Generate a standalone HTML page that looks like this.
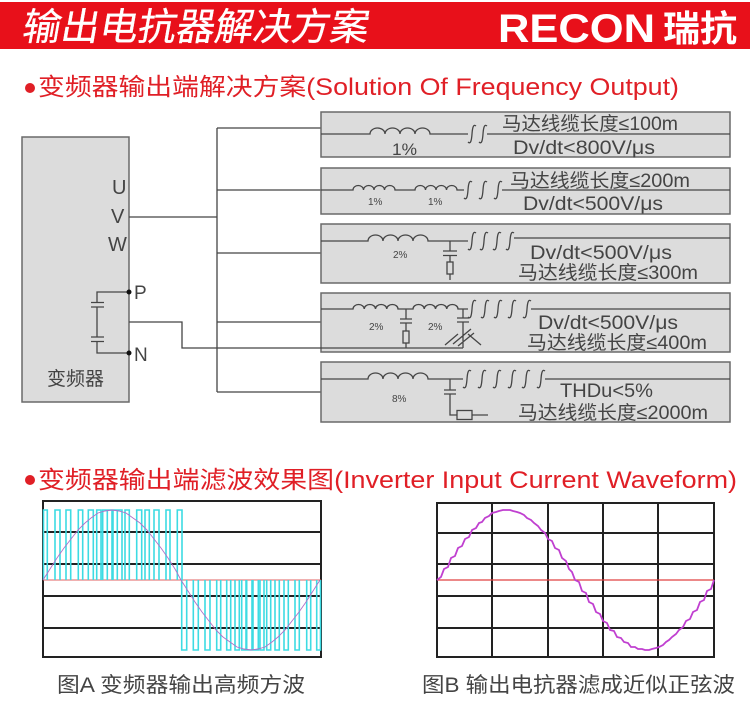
<!DOCTYPE html>
<html><head><meta charset="utf-8"><style>
html,body{margin:0;padding:0;background:#fff;}
svg{display:block;}
.cj{font-family:"Liberation Sans","Noto Sans CJK SC",sans-serif;}
.ln{stroke:#454545;stroke-width:1.3;fill:none;}
.bx{fill:#dcdcdc;stroke:#6a6a6a;stroke-width:1.5;}
.t{fill:#444;font-family:"Liberation Sans","Noto Sans CJK SC",sans-serif;}
</style></head><body>
<svg width="750" height="714" viewBox="0 0 750 714" xmlns="http://www.w3.org/2000/svg">
<rect width="750" height="714" fill="#fff"/>
<!-- header -->
<rect x="0" y="2" width="750" height="47" fill="#e8101a"/>
<text x="28" y="40" font-size="38" fill="#fff" stroke="#fff" stroke-width="0.3" transform="skewX(-10)" class="cj" textLength="346" lengthAdjust="spacingAndGlyphs">输出电抗器解决方案</text>
<text x="498" y="42" font-size="40" fill="#fff" font-weight="bold" font-family="Liberation Sans, sans-serif" textLength="157" lengthAdjust="spacingAndGlyphs">RECON</text>
<text x="663" y="41" font-size="36" fill="#fff" font-weight="bold" class="cj" textLength="74" lengthAdjust="spacingAndGlyphs">瑞抗</text>

<!-- heading 1 -->
<circle cx="30" cy="88" r="5" fill="#e01f26"/>
<text x="38" y="95" font-size="24" fill="#e01f26" class="cj" textLength="641" lengthAdjust="spacingAndGlyphs">变频器输出端解决方案(Solution Of Frequency Output)</text>

<!-- inverter -->
<rect x="22" y="137" width="107" height="265" class="bx"/>
<text x="112" y="194" font-size="20" class="t" fill="#555">U</text>
<text x="111" y="223" font-size="20" class="t" fill="#555">V</text>
<text x="108" y="251" font-size="20" class="t" fill="#555">W</text>
<text x="134" y="299" font-size="19" class="t">P</text>
<text x="134" y="361" font-size="19" class="t">N</text>
<text x="47" y="385" font-size="19" class="t" textLength="57" lengthAdjust="spacingAndGlyphs">变频器</text>
<path class="ln" d="M129,292 H97 V302.5 M91,302.5 H104 M91,307 H104 M97,307 V337 M91,337 H104 M91,341.5 H104 M97,341.5 V353 H129"/>
<circle cx="129" cy="292" r="2.5" fill="#111"/>
<circle cx="129" cy="353" r="2.5" fill="#111"/>

<!-- bus -->
<path class="ln" d="M129,217 H217 M217,128 V392 M217,128 H321 M217,190 H321 M217,253 H321 M217,322 H321 M217,392 H321"/>

<!-- boxes -->
<rect x="321" y="112" width="409" height="45" class="bx"/>
<rect x="321" y="168" width="409" height="46" class="bx"/>
<rect x="321" y="224" width="409" height="59" class="bx"/>
<rect x="321" y="293" width="409" height="59" class="bx"/>
<rect x="321" y="362" width="409" height="60" class="bx"/>

<!-- N line -->
<path class="ln" d="M129,322 H182 V348 H463"/>

<!-- box1 -->
<path class="ln" d="M321,134 H370 a7.5,6 0 0 1 15,0 a7.5,6 0 0 1 15,0 a7.5,6 0 0 1 15,0 a7.5,6 0 0 1 15,0 H468
M468,142 c2.5,2.5 3.5,-1 4,-8 c0.5,-7 1.5,-10 4,-8
M479,142 c2.5,2.5 3.5,-1 4,-8 c0.5,-7 1.5,-10 4,-8
M487,134 H730"/>
<text x="392" y="155" font-size="17" class="t" textLength="25" lengthAdjust="spacingAndGlyphs">1%</text>
<text x="502" y="130" font-size="19" class="t" textLength="176" lengthAdjust="spacingAndGlyphs">马达线缆长度≤100m</text>
<text x="513" y="154" font-size="19" class="t" textLength="142" lengthAdjust="spacingAndGlyphs">Dv/dt&lt;800V/μs</text>

<!-- box2 -->
<path class="ln" d="M321,190 H353 a5.25,4.5 0 0 1 10.5,0 a5.25,4.5 0 0 1 10.5,0 a5.25,4.5 0 0 1 10.5,0 a5.25,4.5 0 0 1 10.5,0 H415 a5.25,4.5 0 0 1 10.5,0 a5.25,4.5 0 0 1 10.5,0 a5.25,4.5 0 0 1 10.5,0 a5.25,4.5 0 0 1 10.5,0 H464
M464,198 c2.5,2.5 3.5,-1 4,-8 c0.5,-7 1.5,-10 4,-8
M479,198 c2.5,2.5 3.5,-1 4,-8 c0.5,-7 1.5,-10 4,-8
M494,198 c2.5,2.5 3.5,-1 4,-8 c0.5,-7 1.5,-10 4,-8
M502,190 H730"/>
<text x="368" y="205" font-size="10" class="t" fill="#555">1%</text>
<text x="428" y="205" font-size="10" class="t" fill="#555">1%</text>
<text x="510" y="187" font-size="19" class="t" textLength="180" lengthAdjust="spacingAndGlyphs">马达线缆长度≤200m</text>
<text x="523" y="210" font-size="19" class="t" textLength="140" lengthAdjust="spacingAndGlyphs">Dv/dt&lt;500V/μs</text>

<!-- box3 -->
<path class="ln" d="M321,241 H368 a7.5,6 0 0 1 15,0 a7.5,6 0 0 1 15,0 a7.5,6 0 0 1 15,0 a7.5,6 0 0 1 15,0 H468
M468,249 c2.5,2.5 3.5,-1 4,-8 c0.5,-7 1.5,-10 4,-8
M480,249 c2.5,2.5 3.5,-1 4,-8 c0.5,-7 1.5,-10 4,-8
M493,249 c2.5,2.5 3.5,-1 4,-8 c0.5,-7 1.5,-10 4,-8
M506,249 c2.5,2.5 3.5,-1 4,-8 c0.5,-7 1.5,-10 4,-8
M514,238 H730
M450,241 V251 M443,251 H457 M443,255.5 H457 M450,255.5 V262 M450,274 V280"/>
<rect x="447" y="262" width="6" height="12" fill="none" stroke="#454545" stroke-width="1.3"/>
<text x="393" y="258" font-size="10" class="t" fill="#555">2%</text>
<text x="530" y="259" font-size="19" class="t" textLength="142" lengthAdjust="spacingAndGlyphs">Dv/dt&lt;500V/μs</text>
<text x="518" y="279" font-size="19" class="t" textLength="180" lengthAdjust="spacingAndGlyphs">马达线缆长度≤300m</text>

<!-- box4 -->
<path class="ln" d="M321,309 H353 a5.625,4.5 0 0 1 11.25,0 a5.625,4.5 0 0 1 11.25,0 a5.625,4.5 0 0 1 11.25,0 a5.625,4.5 0 0 1 11.25,0 H413 a5.625,4.5 0 0 1 11.25,0 a5.625,4.5 0 0 1 11.25,0 a5.625,4.5 0 0 1 11.25,0 a5.625,4.5 0 0 1 11.25,0 H468
M468,317 c2.5,2.5 3.5,-1 4,-8 c0.5,-7 1.5,-10 4,-8
M481,317 c2.5,2.5 3.5,-1 4,-8 c0.5,-7 1.5,-10 4,-8
M494,317 c2.5,2.5 3.5,-1 4,-8 c0.5,-7 1.5,-10 4,-8
M508,317 c2.5,2.5 3.5,-1 4,-8 c0.5,-7 1.5,-10 4,-8
M523,317 c2.5,2.5 3.5,-1 4,-8 c0.5,-7 1.5,-10 4,-8
M531,309 H730
M406,309 V319 M400,319 H412 M400,323 H412 M406,323 V331 M406,343 V348
M463,309 V318 M457,318 H469 M457,322 H469 M463,322 V348
M445,345 L458,334 M468,334 L481,345 M453,344 L471,329 M458,346 L474,333"/>
<rect x="403" y="331" width="6" height="12" fill="none" stroke="#454545" stroke-width="1.3"/>
<text x="369" y="330" font-size="10" class="t" fill="#555">2%</text>
<text x="428" y="330" font-size="10" class="t" fill="#555">2%</text>
<text x="538" y="329" font-size="19" class="t" textLength="140" lengthAdjust="spacingAndGlyphs">Dv/dt&lt;500V/μs</text>
<text x="527" y="349" font-size="19" class="t" textLength="180" lengthAdjust="spacingAndGlyphs">马达线缆长度≤400m</text>

<!-- box5 -->
<path class="ln" d="M321,379 H368 a7.5,6 0 0 1 15,0 a7.5,6 0 0 1 15,0 a7.5,6 0 0 1 15,0 a7.5,6 0 0 1 15,0 H463
M463,387 c2.5,2.5 3.5,-1 4,-8 c0.5,-7 1.5,-10 4,-8
M478,387 c2.5,2.5 3.5,-1 4,-8 c0.5,-7 1.5,-10 4,-8
M493,387 c2.5,2.5 3.5,-1 4,-8 c0.5,-7 1.5,-10 4,-8
M508,387 c2.5,2.5 3.5,-1 4,-8 c0.5,-7 1.5,-10 4,-8
M522,387 c2.5,2.5 3.5,-1 4,-8 c0.5,-7 1.5,-10 4,-8
M537,387 c2.5,2.5 3.5,-1 4,-8 c0.5,-7 1.5,-10 4,-8
M545,379 H730
M450,379 V390 M444,390 H456 M444,394 H456 M450,394 V415 H457 M472,415 H488"/>
<rect x="457" y="410.5" width="15" height="9" fill="none" stroke="#454545" stroke-width="1.3"/>
<text x="392" y="402" font-size="10" class="t" fill="#555">8%</text>
<text x="560" y="397" font-size="19" class="t" textLength="93" lengthAdjust="spacingAndGlyphs">THDu&lt;5%</text>
<text x="518" y="419" font-size="19" class="t" textLength="190" lengthAdjust="spacingAndGlyphs">马达线缆长度≤2000m</text>

<!-- heading 2 -->
<circle cx="30" cy="480" r="5" fill="#e01f26"/>
<text x="38" y="488" font-size="24" fill="#e01f26" class="cj" textLength="699" lengthAdjust="spacingAndGlyphs">变频器输出端滤波效果图(Inverter Input Current Waveform)</text>

<!-- chart A -->
<rect x="43" y="501" width="278" height="156" fill="#fff" stroke="#222" stroke-width="2"/>
<path d="M43,532 H321 M43,564 H321 M43,596 H321 M43,628 H321" stroke="#222" stroke-width="2" fill="none"/>
<path d="M43,580 H321" stroke="#e06060" stroke-width="1" fill="none"/>
<g fill="none" stroke="#3ddbe3" stroke-width="1.6">
<path d="M43.5,580 V510 H47.3 V580 M55,580 V510 H60 V580 M66,580 V510 H70.7 V580 M78.3,580 V510 H82.7 V580 M88.3,580 V510 H93.3 V580 M96.7,580 V510 H101 V580 M102.7,580 V510 H107.3 V580 M107.3,580 V510 H112 V580 M113,580 V510 H117.3 V580 M117.3,580 V510 H122 V580 M125,580 V510 H129.3 V580 M136.7,580 V510 H141.7 V580 M145,580 V510 H149.3 V580 M154,580 V510 H159 V580 M166,580 V510 H170 V580 M177.3,580 V510 H182 V580"/>
<path d="M181.7,580 V650 H186.7 V580 M193.3,580 V650 H198.3 V580 M205,580 V650 H210 V580 M216.7,580 V650 H220.7 V580 M226.7,580 V650 H230.7 V580 M235,580 V650 H239.3 V580 M241.7,580 V650 H246 V580 M246.7,580 V650 H252 V580 M253,580 V650 H258.3 V580 M260,580 V650 H264 V580 M266.7,580 V650 H270.7 V580 M275,580 V650 H279.3 V580 M284,580 V650 H288.3 V580 M295,580 V650 H299.3 V580 M306.7,580 V650 H310.7 V580 M316.7,580 V650 H320.5 V580"/>
</g>
<polyline transform="translate(-394,0)" fill="none" stroke="#b070c8" stroke-width="0.9" points="437,580 444,569 451,558 458,548 465,539 472,530 479,523 485,518 492,513 499,511 506,510 513,511 520,513 527,518 534,523 541,530 548,539 555,548 562,558 569,569 575,580 582,591 589,602 596,612 603,621 610,630 617,637 624,642 631,647 638,649 645,650 652,649 659,647 666,642 672,637 679,630 686,621 693,612 700,602 707,591 714,580"/>

<!-- chart B -->
<rect x="437" y="503" width="277" height="154" fill="#fff" stroke="#222" stroke-width="2"/>
<path d="M437,533 H714 M437,564 H714 M437,596 H714 M437,628 H714 M492,503 V657 M548,503 V657 M603,503 V657 M658,503 V657" stroke="#222" stroke-width="2" fill="none"/>
<path d="M437,580 H714" stroke="#e04040" stroke-width="1.2" fill="none"/>
<polyline fill="none" stroke="#c040d0" stroke-width="1.8" points="437,580 441,577 444,569 448,567 451,558 455,556 458,548 462,546 465,539 469,537 472,530 476,528 479,523 482,522 485,518 489,516 492,513 496,512 499,511 503,510 506,510 510,510 513,511 517,512 520,513 524,515 527,518 531,520 534,523 538,526 541,530 545,533 548,539 552,541 555,548 559,550 562,558 566,561 569,569 572,572 575,580 579,582 582,591 586,593 589,602 593,604 596,612 600,614 603,621 607,623 610,630 614,631 617,637 621,638 624,642 628,643 631,647 635,647 638,649 642,649 645,650 649,650 652,649 656,648 659,647 663,645 666,642 669,640 672,637 676,634 679,630 683,627 686,621 690,619 693,612 697,610 700,602 704,600 707,591 711,589 714,580"/>

<!-- captions -->
<text x="57" y="692" font-size="21" class="t" fill="#555" textLength="248" lengthAdjust="spacingAndGlyphs">图A  变频器输出高频方波</text>
<text x="422" y="692" font-size="21" class="t" fill="#555" textLength="313" lengthAdjust="spacingAndGlyphs">图B  输出电抗器滤成近似正弦波</text>
</svg>
</body></html>
